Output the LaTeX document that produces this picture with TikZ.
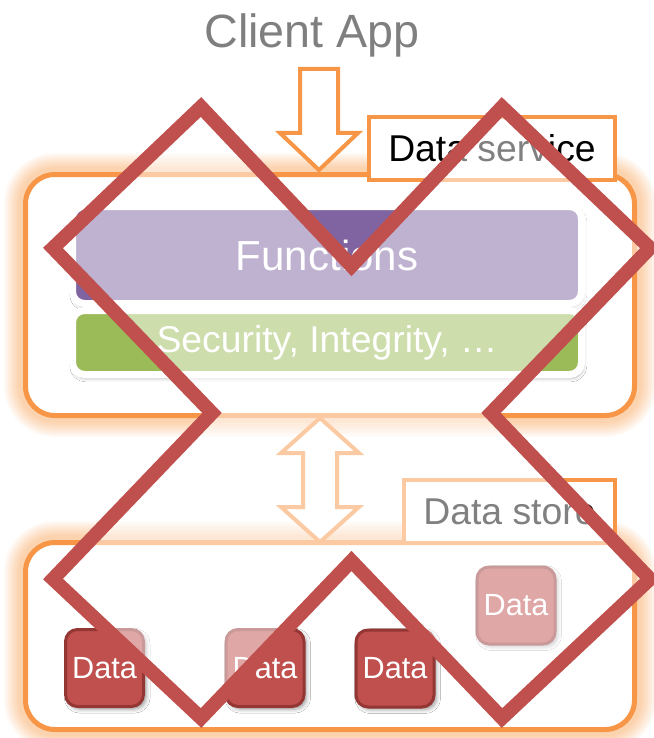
\documentclass[tikz,border=0pt]{standalone}
\usepackage{fontspec}
\setmainfont{Liberation Sans}
\usetikzlibrary{shadows.blur}

\definecolor{dsorange}{HTML}{F79646}
\definecolor{glowc}{HTML}{FAB06F}
\definecolor{funcc}{HTML}{8064A2}
\definecolor{secc}{HTML}{9BBB59}
\definecolor{datac}{HTML}{C0504D}
\definecolor{databd}{HTML}{943634}
\definecolor{crossc}{HTML}{C0504D}
\definecolor{captc}{HTML}{7F7F7F}

\tikzset{
  glow/.style={
    preaction={draw=glowc, line width=32pt, opacity=.08},
    preaction={draw=glowc, line width=29pt, opacity=.08},
    preaction={draw=glowc, line width=26pt, opacity=.09},
    preaction={draw=glowc, line width=23pt, opacity=.09},
    preaction={draw=glowc, line width=20pt, opacity=.1},
    preaction={draw=glowc, line width=17pt, opacity=.1},
    preaction={draw=glowc, line width=14pt, opacity=.11},
    preaction={draw=glowc, line width=11pt, opacity=.12}},
  container/.style={glow, draw=dsorange, fill=white, line width=3.75pt,
    rounded corners=22pt, minimum width=456.75pt, inner sep=0pt},
  tag/.style={draw=dsorange, fill=white, line width=3pt, inner sep=0pt,
    minimum height=47.25pt, font=\fontsize{28pt}{34pt}\selectfont},
  bar/.style={draw=white, line width=5.25pt, rounded corners=9pt,
    minimum width=381.75pt, inner sep=0pt, text=white,
    blur shadow={shadow xshift=1pt, shadow yshift=-2.5pt,
      shadow blur radius=3pt, shadow opacity=35}},
  datum/.style={draw=databd, fill=datac, line width=2.25pt,
    rounded corners=9pt, minimum width=58.5pt, minimum height=57.75pt,
    inner sep=0pt, text=white, font=\fontsize{23pt}{28pt}\selectfont,
    blur shadow={shadow xshift=2pt, shadow yshift=-2pt,
      shadow blur radius=3pt, shadow opacity=40}},
  blockarrow/.style={draw=dsorange, fill=white, line width=3pt, line join=miter},
  cross/.style={draw=crossc, line width=10.5pt, line join=miter, miter limit=10,
    fill=white, fill opacity=.5}
}

\begin{document}
\begin{tikzpicture}[x=0.75pt, y=-0.75pt]
  \useasboundingbox (0,0) rectangle (653,738);

  % the two layers
  \node[container, minimum height=180.75pt] (svc) at (330,295) {};
  \node[container, minimum height=140.25pt] (store) at (330,636) {};

  \node[tag, minimum width=184.5pt] (svclabel) at (492,148.5) {Data service};
  \node[tag, minimum width=158.25pt] (storelabel) at (509.5,511.5) {Data store};

  % inside the data service
  \node[bar, fill=funcc, minimum height=72.75pt,
        font=\fontsize{31.5pt}{38pt}\selectfont] (func) at (327,255) {Functions};
  \node[bar, fill=secc, minimum height=48pt,
        font=\fontsize{28pt}{33pt}\selectfont] (sec) at (327,342.5) {Security, Integrity, …};

  % inside the data store
  \node[datum] (d1) at (104.5,668) {Data};
  \node[datum] (d2) at (265,668) {Data};
  \node[datum] (d3) at (395,668.5) {Data};
  \node[datum] (d4) at (516,605.5) {Data};

  \node[text=captc, font=\fontsize{35pt}{42pt}\selectfont] (client) at (312,35) {Client App};

  % block arrows
  \coordinate (feed) at (319,170);
  \coordinate (link) at (320,418);
  \draw[blockarrow] (feed) -- ++(-39,-37) -- ++(20,0) -- ++(0,-64) -- ++(38,0)
    -- ++(0,64) -- ++(20,0) -- cycle;
  \draw[blockarrow] (link) -- ++(39,35) -- ++(-22,0) -- ++(0,54) -- ++(22,0)
    -- ++(-39,35) -- ++(-39,-35) -- ++(22,0) -- ++(0,-54) -- ++(-22,0) -- cycle;

  % struck out
  \draw[cross] (201,107) -- (351.5,266) -- (502,107) -- (650,248) -- (491,413)
    -- (650,579) -- (502,718) -- (351.5,561) -- (201,718) -- (53,579)
    -- (212,413) -- (53,248) -- cycle;
\end{tikzpicture}
\end{document}
